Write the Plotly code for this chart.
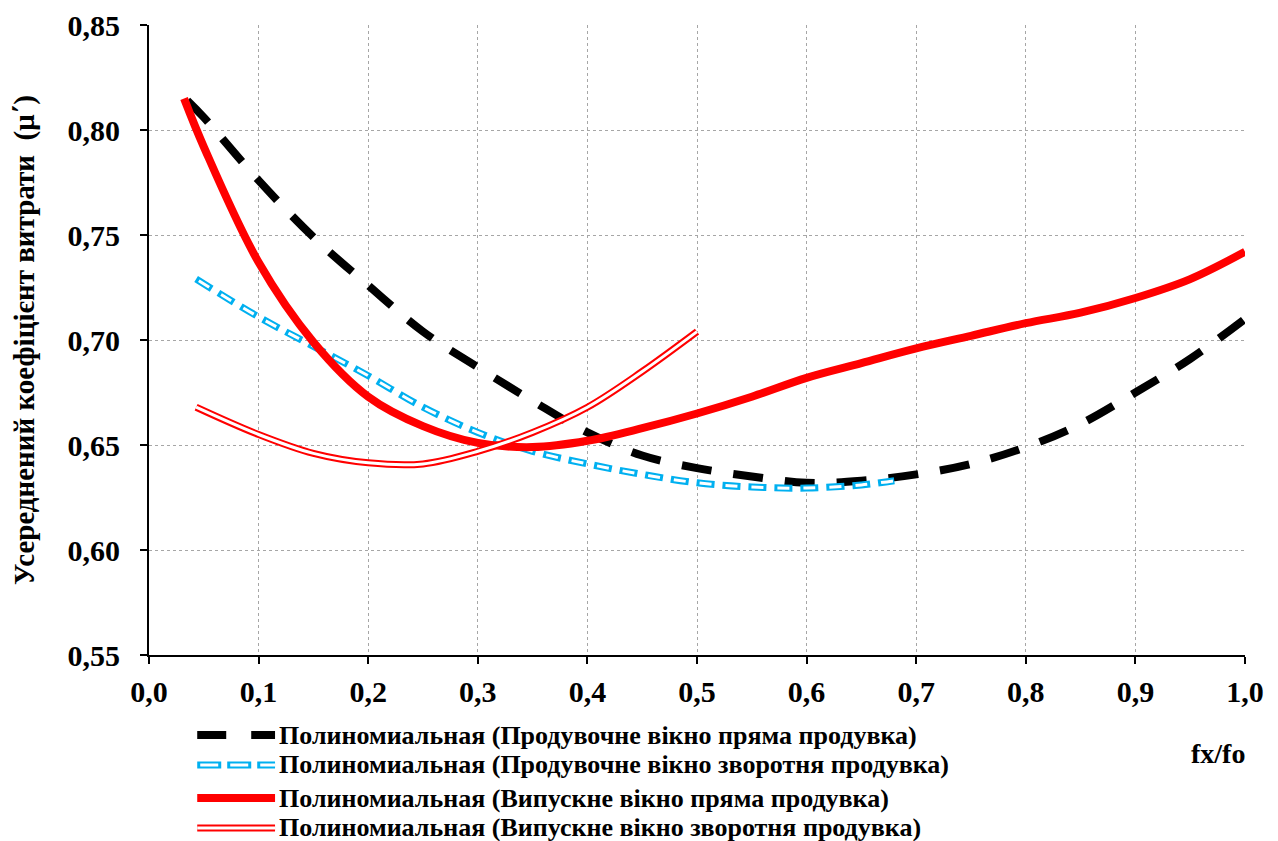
import plotly.graph_objects as go

# ---- data ----
x_blow_direct = [0.035, 0.05, 0.1, 0.15, 0.2, 0.25, 0.3, 0.35, 0.4, 0.45, 0.5, 0.55, 0.6, 0.65, 0.7, 0.75, 0.8, 0.85, 0.9, 0.95, 1.0]
y_blow_direct = [0.814, 0.806, 0.776, 0.749, 0.726, 0.704, 0.687, 0.671, 0.656, 0.645, 0.639, 0.635, 0.632, 0.633, 0.636, 0.641, 0.649, 0.660, 0.675, 0.691, 0.710]

x_blow_reverse = [0.043, 0.1, 0.15, 0.2, 0.25, 0.3, 0.35, 0.4, 0.45, 0.5, 0.55, 0.6, 0.65, 0.68]
y_blow_reverse = [0.729, 0.711, 0.697, 0.683, 0.668, 0.656, 0.647, 0.641, 0.636, 0.632, 0.630, 0.6295, 0.631, 0.633]

x_exh_direct = [0.032, 0.05, 0.1, 0.15, 0.2, 0.25, 0.3, 0.35, 0.4, 0.45, 0.5, 0.55, 0.6, 0.65, 0.7, 0.75, 0.8, 0.85, 0.9, 0.95, 1.0]
y_exh_direct = [0.815, 0.792, 0.737, 0.699, 0.673, 0.659, 0.651, 0.649, 0.652, 0.658, 0.665, 0.673, 0.682, 0.689, 0.696, 0.702, 0.708, 0.713, 0.720, 0.729, 0.742]

x_exh_reverse = [0.043, 0.1, 0.15, 0.2, 0.25, 0.3, 0.35, 0.4, 0.45, 0.5]
y_exh_reverse = [0.668, 0.655, 0.646, 0.6415, 0.641, 0.647, 0.656, 0.668, 0.685, 0.704]

legend_labels = [
    "Полиномиальная (Продувочне вікно пряма продувка)",
    "Полиномиальная (Продувочне вікно зворотня продувка)",
    "Полиномиальная (Випускне вікно пряма продувка)",
    "Полиномиальная (Випускне вікно зворотня продувка)",
]

x_ticks = [0.0, 0.1, 0.2, 0.3, 0.4, 0.5, 0.6, 0.7, 0.8, 0.9, 1.0]
y_ticks = [0.55, 0.60, 0.65, 0.70, 0.75, 0.80, 0.85]

x_title = "fx/fo"
y_title = "Усереднений коефіцієнт витрати  (μ΄)"

# ---- styles ----
FONT = "Liberation Serif"
BLACK = "#000000"
BLUE = "#00B0F0"
RED = "#FF0000"

fig = go.Figure()

def add(x, y, color, width, dash="solid"):
    fig.add_trace(go.Scatter(
        x=x, y=y, mode="lines", showlegend=False, hoverinfo="skip",
        line=dict(color=color, width=width, dash=dash, shape="spline", smoothing=1.0),
    ))

add(x_blow_direct, y_blow_direct, BLACK, 8, "30px,22px")
add(x_blow_reverse, y_blow_reverse, BLUE, 7, "18px,8px")
add(x_blow_reverse, y_blow_reverse, "white", 3, "0px,3px,12px,11px")
add(x_exh_direct, y_exh_direct, RED, 8)
add(x_exh_reverse, y_exh_reverse, RED, 7)
add(x_exh_reverse, y_exh_reverse, "white", 3)

# ---- custom legend (paper coordinates relative to plot area) ----
rows = [-0.127, -0.1746, -0.227, -0.2746]
sx0, sx1 = 0.044, 0.115
styles = [
    [(BLACK, 8, "29px,25px")],
    [(BLUE, 7, "24px,6px"), ("white", 3, "0px,3px,18px,9px")],
    [(RED, 8, "solid")],
    [(RED, 7, "solid"), ("white", 3, "solid")],
]
shapes = []
annotations = []
for ry, st, lab in zip(rows, styles, legend_labels):
    for c, w, d in st:
        shapes.append(dict(type="line", xref="paper", yref="paper", x0=sx0, x1=sx1, y0=ry, y1=ry,
                           line=dict(color=c, width=w, dash=d)))
    annotations.append(dict(xref="paper", yref="paper", x=0.117, y=ry, xanchor="left", yanchor="middle",
                            text=lab, showarrow=False,
                            font=dict(family=FONT, size=26, color="black", weight="bold")))

annotations.append(dict(xref="paper", yref="paper", x=(24 - 149) / 1096, y=0.5, xanchor="center",
                        yanchor="middle", textangle=-90, text=y_title, showarrow=False,
                        font=dict(family=FONT, size=29, color="black", weight="bold")))
annotations.append(dict(xref="paper", yref="paper", x=(1218 - 149) / 1096, y=(655 - 754) / 630, xanchor="center",
                        yanchor="middle", text=x_title, showarrow=False,
                        font=dict(family=FONT, size=28, color="black", weight="bold")))

# page body has an 8px margin, so shift everything back by 8px
fig.update_layout(
    width=1270, height=833,
    margin=dict(l=141, r=33, t=17, b=186, autoexpand=False),
    plot_bgcolor="white", paper_bgcolor="white",
    separators=", ",
    shapes=shapes, annotations=annotations,
    showlegend=False,
)
fig.update_xaxes(
    range=[0, 1.0], tickvals=x_ticks, tickformat=".1f",
    showline=True, linecolor="black", linewidth=2,
    ticks="outside", ticklen=7, tickwidth=2, tickcolor="black",
    showgrid=True, gridcolor="#a6a6a6", gridwidth=1, griddash="dot",
    zeroline=False, ticklabelstandoff=2, automargin=False,
    tickfont=dict(family=FONT, size=30, color="black", weight="bold"),
)
fig.update_yaxes(
    range=[0.55, 0.85], tickvals=y_ticks, tickformat=".2f",
    showline=True, linecolor="black", linewidth=2,
    ticks="outside", ticklen=7, tickwidth=2, tickcolor="black",
    showgrid=True, gridcolor="#a6a6a6", gridwidth=1, griddash="dot",
    zeroline=False, ticklabelstandoff=14, automargin=False,
    tickfont=dict(family=FONT, size=30, color="black", weight="bold"),
)

fig.write_html("out.html")
